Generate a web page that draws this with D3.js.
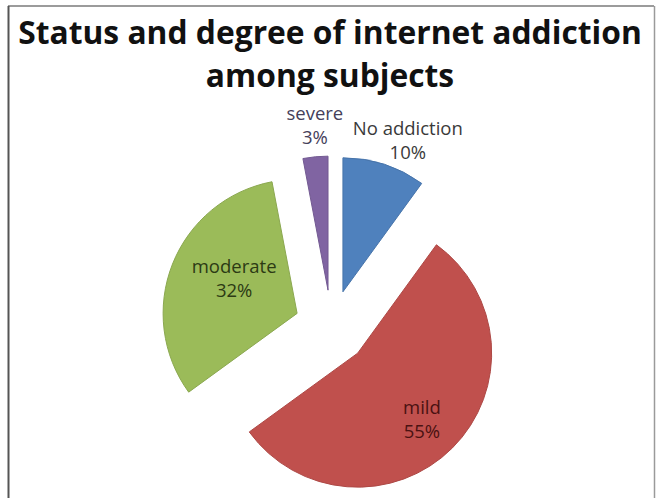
<!DOCTYPE html>
<html>
<head>
<meta charset="utf-8">
<script src="https://cdn.jsdelivr.net/npm/d3@7"></script>
<style>
  html, body { margin: 0; padding: 0; background: #fff; }
  svg { display: block; }
</style>
</head>
<body>
<svg id="chart" width="657" height="498"></svg>
<script>
// ---- data ----
const titleLines = ["Status and degree of internet addiction", "among subjects"];
const categories = ["No addiction", "mild", "moderate", "severe"];
const values = [10, 55, 32, 3];
const valueLabels = ["10%", "55%", "32%", "3%"];
const colors = ["#4F81BD", "#C0504D", "#9BBB59", "#8064A2"];
const labelColors = ["#3a3a3a", "#4a1212", "#2c3a14", "#45405a"];

// ---- layout ----
const W = 657, H = 498;
const cx = 331.5, cy = 327, R = 134, explode = 37;
// label anchor in polar coordinates around the pie centre: [angle (deg), distance]
const labelPolar = [[22.2, 202], [135.5, 129], [-63.3, 109], [-4.7, 203]];

const svg = d3.select("#chart");
svg.append("rect").attr("width", W).attr("height", H).attr("fill", "#fff");

// frame
svg.append("line").attr("x1", 8).attr("y1", 6).attr("x2", 654).attr("y2", 6)
  .attr("stroke", "#7a7a7a").attr("stroke-width", 1.5);
svg.append("line").attr("x1", 8.5).attr("y1", 6).attr("x2", 8.5).attr("y2", H)
  .attr("stroke", "#555").attr("stroke-width", 2);
svg.append("line").attr("x1", 654.5).attr("y1", 6).attr("x2", 654.5).attr("y2", H)
  .attr("stroke", "#9a9a9a").attr("stroke-width", 1.5);

// title
const titleFont = "'Open Sans', 'DejaVu Sans', sans-serif";
const t1 = svg.append("text").attr("x", 330).attr("y", 44)
  .attr("text-anchor", "middle").attr("font-family", titleFont)
  .attr("font-weight", 700).attr("font-size", 30).attr("fill", "#111")
  .text(titleLines[0]);
const w1 = t1.node().getComputedTextLength();
const fs = 30 * 624 / w1;
t1.attr("font-size", fs);
svg.append("text").attr("x", 330).attr("y", 87)
  .attr("text-anchor", "middle").attr("font-family", titleFont)
  .attr("font-weight", 700).attr("font-size", fs).attr("fill", "#111")
  .text(titleLines[1]);

// pie
const pie = d3.pie().sort(null).value(d => d)(values);
const arc = d3.arc().innerRadius(0).outerRadius(R);
const rad = a => a * Math.PI / 180;

const g = svg.append("g").attr("transform", `translate(${cx},${cy})`);
g.selectAll("path.slice").data(pie).join("path")
  .attr("class", "slice")
  .attr("transform", d => {
    const m = (d.startAngle + d.endAngle) / 2;
    return `translate(${explode * Math.sin(m)},${-explode * Math.cos(m)})`;
  })
  .attr("d", arc)
  .attr("fill", (d, i) => colors[i])
  .attr("stroke", (d, i) => d3.color(colors[i]).darker(0.3))
  .attr("stroke-width", 1);

// labels
const labFont = "'Open Sans', 'DejaVu Sans', sans-serif";
pie.forEach((d, i) => {
  const [a, dist] = labelPolar[i];
  const x = dist * Math.sin(rad(a));
  const y = -dist * Math.cos(rad(a));
  const t = g.append("text").attr("text-anchor", "middle")
    .attr("font-family", labFont).attr("font-size", 18.5)
    .attr("fill", labelColors[i]);
  t.append("tspan").attr("x", x).attr("y", y - 5).text(categories[i]);
  t.append("tspan").attr("x", x).attr("y", y + 19).text(valueLabels[i]);
});
</script>
</body>
</html>
